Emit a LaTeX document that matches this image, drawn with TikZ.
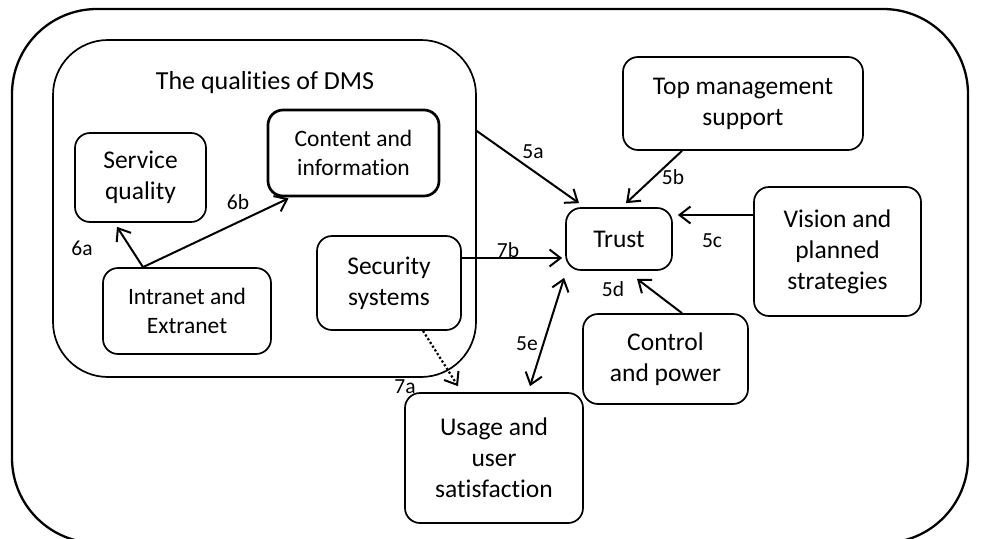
\documentclass[tikz,border=0pt]{standalone}
\usepackage{fontspec}
\setmainfont{Carlito}[Ligatures=CommonOff]
\usetikzlibrary{arrows.meta}

\begin{document}
\begin{tikzpicture}[x=1pt,y=-1pt,
  box/.style={draw, line width=1.7pt, rounded corners=15pt, align=center,
    inner sep=0pt, font=\fontsize{25.5}{31}\selectfont},
  smallbox/.style={box, font=\fontsize{23.5}{28.5}\selectfont},
  lab/.style={font=\fontsize{21.5}{26}\selectfont, inner sep=0pt},
  conn/.style={line width=2pt,
    -{Straight Barb[length=11pt,width=17pt,line width=2pt]}},
  dualconn/.style={line width=2pt,
    {Straight Barb[length=11pt,width=17pt,line width=2pt]}-{Straight Barb[length=11pt,width=17pt,line width=2pt]}},
  dotconn/.style={conn, line width=2.2pt, dash pattern=on 2.2pt off 2.2pt},
]
\useasboundingbox (0,0) rectangle (987,538);
\clip (0,0) rectangle (987,538);

% outer frame and the DMS group
\node[draw, line width=2.3pt, rounded corners=85pt, minimum width=956pt,
  minimum height=534pt, inner sep=0pt] (frame) at (490,276) {};
\node[draw, line width=1.7pt, rounded corners=55pt, minimum width=423pt,
  minimum height=337pt, inner sep=0pt] (dms) at (264.5,208.5) {};
\node[font=\fontsize{26}{31}\selectfont, inner sep=0pt] (dmstitle) at (265,83) {The qualities of DMS};

% factor boxes
\node[box, minimum width=131pt, minimum height=89pt] (serv) at (140.5,177.5) {Service\\quality};
\node[smallbox, line width=2.7pt, minimum width=171pt, minimum height=86pt] (cont) at (353.5,153) {Content and\\information};
\node[box, minimum width=144pt, minimum height=94pt] (secu) at (389,283) {Security\\systems};
\node[smallbox, minimum width=168pt, minimum height=86pt] (intra) at (187,311) {Intranet and\\Extranet};
\node[box, minimum width=178pt, minimum height=130pt] (usage) at (494,458) {Usage and\\user\\satisfaction};
\node[box, minimum width=106pt, minimum height=62pt] (trust) at (619,239) {Trust};
\node[box, minimum width=240pt, minimum height=93pt] (top) at (743,103.5) {Top management\\support};
\node[box, minimum width=167pt, minimum height=129pt] (vision) at (837.5,251.5) {Vision and\\planned\\strategies};
\node[box, minimum width=165pt, minimum height=90pt] (control) at (665.5,359) {Control\\and power};

% connectors
\draw[conn] ([xshift=-44pt]intra.north) -- ([xshift=-23.5pt,yshift=-4pt]serv.south);
\draw[conn] ([xshift=-44pt]intra.north) -- ([xshift=-65pt,yshift=-1pt]cont.south);
\draw[conn] ([yshift=77.5pt]dms.east) -- ([xshift=-40pt,yshift=4pt]trust.north);
\draw[conn] ([xshift=-61pt]top.south) -- ([xshift=7pt,yshift=4pt]trust.north);
\draw[conn] ([yshift=36.5pt]vision.west) -- ([xshift=5pt,yshift=24pt]trust.east);
\draw[conn] ([yshift=25pt]secu.east) -- ([xshift=-3pt,yshift=-19pt]trust.west);
\draw[conn] ([xshift=16.5pt]control.north) -- ([xshift=18pt,yshift=-8pt]trust.south);
\draw[dualconn] ([xshift=-1pt,yshift=-7pt]trust.south west) -- ([xshift=36pt,yshift=6pt]usage.north);
\draw[dotconn] ([xshift=34pt]secu.south) -- ([xshift=-36pt,yshift=6pt]usage.north);

% connector labels
\node[lab] (l6a) at (82,248) {6a};
\node[lab] (l6b) at (238,202) {6b};
\node[lab] (l5a) at (533,152) {5a};
\node[lab] (l5b) at (673,177) {5b};
\node[lab] (l5c) at (712,241) {5c};
\node[lab] (l7b) at (508,250) {7b};
\node[lab] (l5d) at (613,289) {5d};
\node[lab] (l5e) at (527,344) {5e};
\node[lab] (l7a) at (405,387) {7a};
\end{tikzpicture}
\end{document}
